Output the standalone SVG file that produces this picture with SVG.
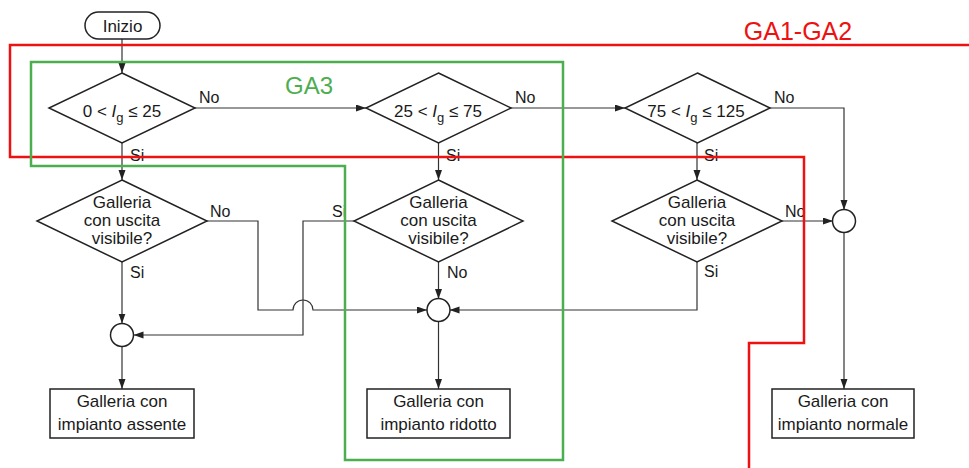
<svg xmlns="http://www.w3.org/2000/svg" width="969" height="468" viewBox="0 0 969 468">
<defs>
<style>
.sh{fill:#fff;stroke:#222;stroke-width:1.5}
.cn{fill:none;stroke:#333;stroke-width:1.2}
.t{font-family:"Liberation Sans",Arial,sans-serif;font-size:17px;fill:#1a1a1a}
.m{text-anchor:middle}
.lb{font-family:"Liberation Sans",Arial,sans-serif;font-size:16px;fill:#1a1a1a}
</style>
<marker id="ah" markerUnits="userSpaceOnUse" markerWidth="11" markerHeight="8" refX="10" refY="3.5" orient="auto">
<path d="M0,0 L10,3.5 L0,7 z" fill="#222"/>
</marker>
</defs>
<rect width="969" height="468" fill="#fff"/>

<g id="connectors">
<path class="cn" d="M122 39 V73" marker-end="url(#ah)"/>
<path class="cn" d="M195 108 H366" marker-end="url(#ah)"/>
<path class="cn" d="M511 108 H625" marker-end="url(#ah)"/>
<path class="cn" d="M770 108 H844 V210" marker-end="url(#ah)"/>
<path class="cn" d="M122 143 V180" marker-end="url(#ah)"/>
<path class="cn" d="M438.5 143 V180" marker-end="url(#ah)"/>
<path class="cn" d="M697 143 V180" marker-end="url(#ah)"/>
<path class="cn" d="M207 221 H258 V310 H293 A10 10 0 0 1 313 310 H427" marker-end="url(#ah)"/>
<path class="cn" d="M354 221 H303 V335 H133.5" marker-end="url(#ah)"/>
<path class="cn" d="M122 262 V323.5" marker-end="url(#ah)"/>
<path class="cn" d="M438.5 262 V299" marker-end="url(#ah)"/>
<path class="cn" d="M697 262 V310 H449.5" marker-end="url(#ah)"/>
<path class="cn" d="M782 221 H833" marker-end="url(#ah)"/>
<path class="cn" d="M122 346.5 V389" marker-end="url(#ah)"/>
<path class="cn" d="M438.5 321 V389" marker-end="url(#ah)"/>
<path class="cn" d="M844 232 V389" marker-end="url(#ah)"/>
<text class="lb" x="199" y="103">No</text>
<text class="lb" x="515" y="103">No</text>
<text class="lb" x="774" y="103">No</text>
<text class="lb" x="130" y="161">Si</text>
<text class="lb" x="446" y="161">Si</text>
<text class="lb" x="704" y="161">Si</text>
<text class="lb" x="210" y="217">No</text>
<text class="lb" x="332" y="217">Si</text>
<text class="lb" x="785" y="217">No</text>
<text class="lb" x="130" y="278">Si</text>
<text class="lb" x="447" y="278">No</text>
<text class="lb" x="704" y="277">Si</text>
</g>

<g id="start">
<rect class="sh" x="85" y="12" width="75" height="27" rx="13.5"/>
<text class="t m" x="122.5" y="32">Inizio</text>
</g>

<g id="d1">
<polygon class="sh" points="122,73 195,108 122,143 49,108"/>
<text class="t m" x="122" y="117">0 &lt; <tspan font-style="italic">I</tspan><tspan dy="5" font-size="13">g</tspan><tspan dy="-5"> ≤ 25</tspan></text>
</g>
<g id="d2">
<polygon class="sh" points="438.5,73 511,108 438.5,143 366,108"/>
<text class="t m" x="438" y="117">25 &lt; <tspan font-style="italic">I</tspan><tspan dy="5" font-size="13">g</tspan><tspan dy="-5"> ≤ 75</tspan></text>
</g>
<g id="d3">
<polygon class="sh" points="697.5,73 770,108 697.5,143 625,108"/>
<text class="t m" x="696" y="117">75 &lt; <tspan font-style="italic">I</tspan><tspan dy="5" font-size="13">g</tspan><tspan dy="-5"> ≤ 125</tspan></text>
</g>

<g id="d4">
<polygon class="sh" points="122,180 207,221 122,262 37,221"/>
<text class="t m" x="122" y="208">Galleria</text>
<text class="t m" x="122" y="226">con uscita</text>
<text class="t m" x="122" y="244">visibile?</text>
</g>
<g id="d5">
<polygon class="sh" points="438.5,180 523,221 438.5,262 354,221"/>
<text class="t m" x="438.5" y="208">Galleria</text>
<text class="t m" x="438.5" y="226">con uscita</text>
<text class="t m" x="438.5" y="244">visibile?</text>
</g>
<g id="d6">
<polygon class="sh" points="697,180 782,221 697,262 612,221"/>
<text class="t m" x="697" y="208">Galleria</text>
<text class="t m" x="697" y="226">con uscita</text>
<text class="t m" x="697" y="244">visibile?</text>
</g>

<g id="j1"><circle class="sh" cx="122" cy="335" r="11.5"/></g>
<g id="j2"><circle class="sh" cx="438.5" cy="310" r="11.5"/></g>
<g id="j3"><circle class="sh" cx="844" cy="221" r="11.5"/></g>

<g id="b1">
<rect class="sh" x="50" y="389" width="144" height="49"/>
<text class="t m" x="122" y="407">Galleria con</text>
<text class="t m" x="122" y="430">impianto assente</text>
</g>
<g id="b2">
<rect class="sh" x="367" y="389" width="143" height="49"/>
<text class="t m" x="438.5" y="407">Galleria con</text>
<text class="t m" x="438.5" y="430">impianto ridotto</text>
</g>
<g id="b3">
<rect class="sh" x="772" y="389" width="142" height="49"/>
<text class="t m" x="843" y="407">Galleria con</text>
<text class="t m" x="843" y="430">impianto normale</text>
</g>

<g id="ga1-ga2">
<path d="M972 45 H10 V157 H804 V343 H749 V470" fill="none" stroke="#ee1111" stroke-width="2.5"/>
<text x="798" y="40" text-anchor="middle" font-family="Liberation Sans,Arial,sans-serif" font-size="25" fill="#ee1111">GA1-GA2</text>
</g>
<g id="ga3">
<path d="M31 62 H563 V460 H345 V166 H31 Z" fill="none" stroke="#4cae4f" stroke-width="2.5"/>
<text x="309" y="94" text-anchor="middle" font-family="Liberation Sans,Arial,sans-serif" font-size="24" fill="#4cae4f">GA3</text>
</g>
</svg>
